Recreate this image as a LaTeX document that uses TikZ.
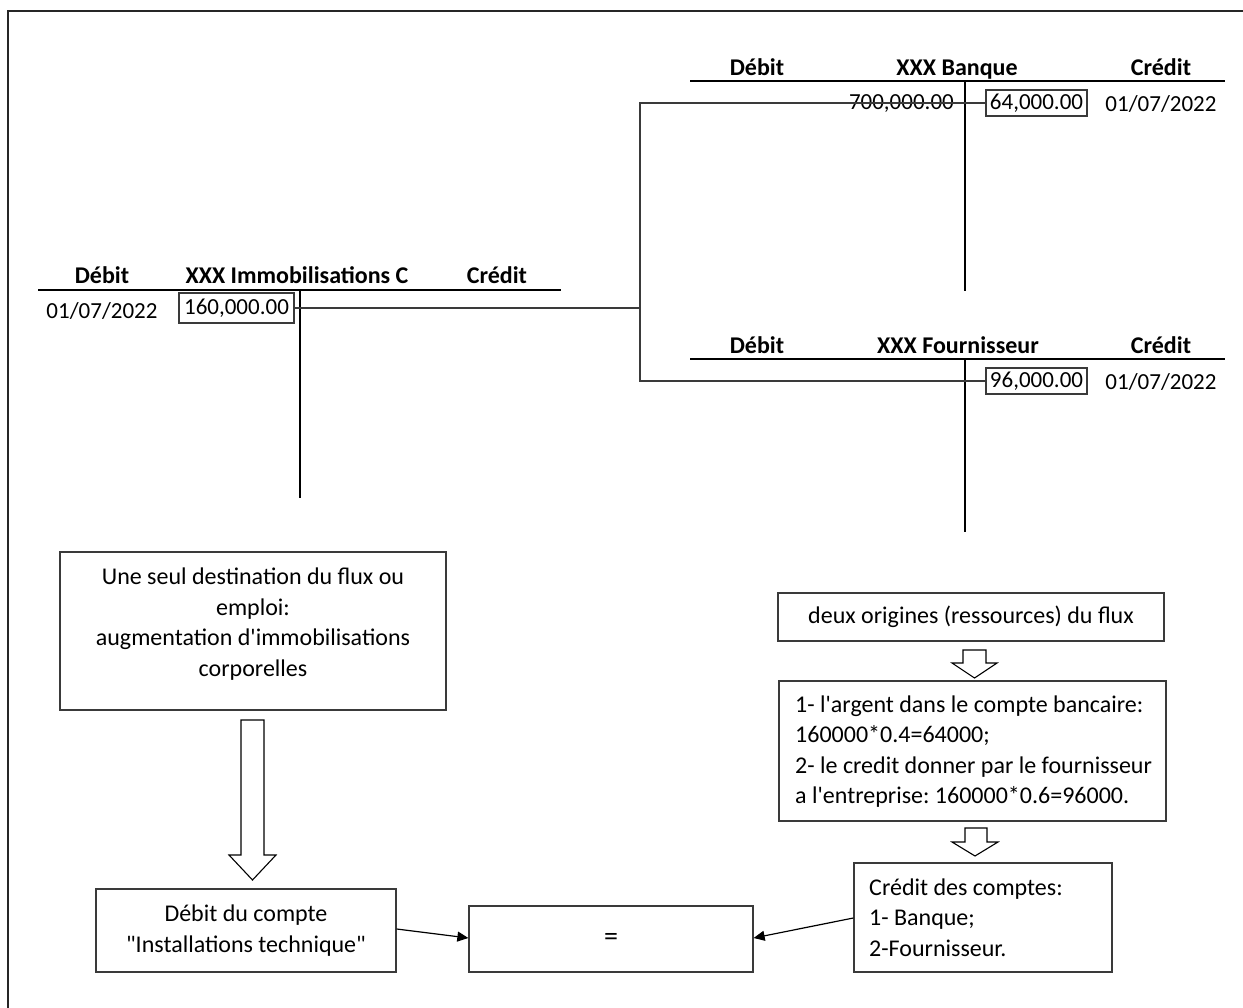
\documentclass[tikz,border=0pt]{standalone}
\usepackage{fontspec}
\setmainfont{Carlito}[Ligatures=TeXOff]
\usetikzlibrary{arrows.meta}
\definecolor{bordergray}{HTML}{3A3A3A}
\frenchspacing
\begin{document}
\begin{tikzpicture}[x=1pt,y=-1pt,
  every node/.style={font=\fontsize{23}{30.5}\selectfont, inner sep=0pt},
  hdr/.style={font=\bfseries\fontsize{24}{26}\selectfont, anchor=base},
  btxt/.style={font=\fontsize{24}{30.6}\selectfont},
  tline/.style={line width=2.6pt, black},
  vline/.style={line width=2.2pt, black},
  amt/.style={draw=bordergray, line width=1.2pt, minimum height=26pt, minimum width=101pt},
  conn/.style={draw=bordergray, line width=1.3pt},
  txtbox/.style={draw=bordergray, line width=1.3pt, align=center, btxt},
  arr/.style={draw=black, line width=1.2pt, -{Triangle[length=11pt,width=10pt]}},
  hollow/.style={draw=black, line width=1.1pt, fill=white}
]
\useasboundingbox (0,0) rectangle (1243,1008);
% outer frame
\draw[line width=2.4pt, black!85] (8,1010) -- (8,11) -- (1246,11);

% ---------- Banque ----------
\node[hdr] (bqD) at (757,76) {Débit};
\node[hdr] (bqT) at (957,76) {XXX Banque};
\node[hdr] (bqC) at (1161,76) {Crédit};
\draw[tline] (690,81) coordinate (bqL) -- (1225,81) coordinate (bqR);
\draw[vline] (965,81) coordinate (bqV) -- (965,291) coordinate (bqVb);
\node[anchor=east] (b700) at (954,104) {700,000.00};
\node[amt] (b64) at (1036.5,103) {\raisebox{-1pt}{64,000.00}};
\node (bqDate) at (1161,104) {01/07/2022};

% ---------- Fournisseur ----------
\node[hdr] (fD) at (757,354) {Débit};
\node[hdr] (fT) at (958,354) {XXX Fournisseur};
\node[hdr] (fC) at (1161,354) {Crédit};
\draw[tline] (690,359) coordinate (fL) -- (1225,359) coordinate (fR);
\draw[vline] (965,359) coordinate (fV) -- (965,532) coordinate (fVb);
\node[amt] (b96) at (1036.5,381) {\raisebox{-1pt}{96,000.00}};
\node (fDate) at (1161,382) {01/07/2022};

% ---------- Immobilisations ----------
\node[hdr] (iD) at (102,284) {Débit};
\node[hdr] (iT) at (297,284) {XXX Immobilisations C};
\node[hdr] (iC) at (497,284) {Crédit};
\draw[tline] (38,290) coordinate (iL) -- (561,290) coordinate (iR);
\draw[vline] (300,290) coordinate (iV) -- (300,498) coordinate (iVb);
\node (iDate) at (102,311) {01/07/2022};
\node[amt, minimum width=115pt, minimum height=30pt] (b160) at (236.5,308) {\raisebox{-1pt}{160,000.00}};

% connectors between accounts
\coordinate (jm) at (640,308);
\draw[conn] (b160.east) -- (jm);
\draw[conn] (jm) |- (b64.west);
\draw[conn] (jm) |- (b96.west);

% ---------- Left flow ----------
\node[txtbox, minimum width=386pt, minimum height=158pt] (emploi) at (253,631) {};
\node[btxt, align=center] (emploiT) at (253,624)
  {Une seul destination du flux ou\\ emploi:\\ augmentation d'immobilisations\\ corporelles};
\draw[hollow] (241,720) -- (264,720) -- (264,855) -- (276,855) -- (252.5,880)
  -- (229,855) -- (241,855) -- cycle;
\node[txtbox, minimum width=300pt, minimum height=83pt] (debit) at (246,930.5)
  {Débit du compte\\ "Installations technique"};

\node[txtbox, minimum width=284pt, minimum height=66pt] (eq) at (611,939) {\fontsize{28}{30}\selectfont =};

% ---------- Right flow ----------
\node[txtbox, minimum width=386pt, minimum height=48pt] (orig) at (971,617)
  {deux origines (ressources) du flux};
\draw[hollow] (963,650) -- (986,650) -- (986,663) -- (997,663) -- (974.5,678)
  -- (952,663) -- (963,663) -- cycle;
\node[txtbox, minimum width=387pt, minimum height=140pt] (calc) at (972.5,751) {};
\node[btxt, align=left, anchor=west] (calcT) at (795,751.5)
  {1- l'argent dans le compte bancaire:\\ 160000*0.4=64000;\\ 2- le credit donner par le fournisseur\\ a l'entreprise: 160000*0.6=96000.};
\draw[hollow] (965,828) -- (987,828) -- (987,842) -- (998,842) -- (975,856)
  -- (952,842) -- (965,842) -- cycle;
\node[txtbox, minimum width=258pt, minimum height=109pt] (cred) at (983,917.5) {};
\node[btxt, align=left, anchor=west] (credT) at (869,917.5)
  {Crédit des comptes:\\ 1- Banque;\\ 2-Fournisseur.};

% arrows into "="
\draw[arr] (debit.east |- 0,929) -- (eq.west |- 0,938);
\draw[arr] (cred.west |- 0,918) -- (eq.east |- 0,938);
\end{tikzpicture}
\end{document}
